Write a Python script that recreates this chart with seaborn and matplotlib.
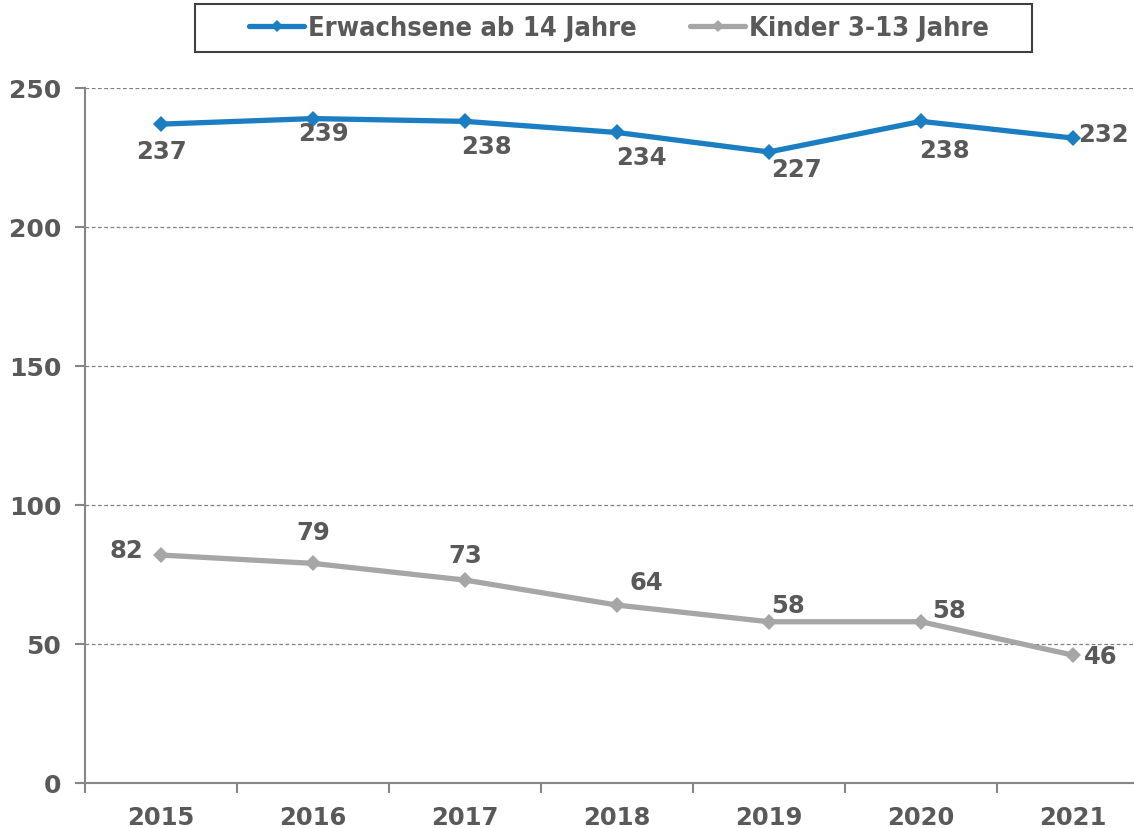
import matplotlib
matplotlib.use("Agg")
import matplotlib.pyplot as plt
import seaborn as sns
import pandas as pd
from matplotlib.patches import Rectangle

years = ["2015", "2016", "2017", "2018", "2019", "2020", "2021"]
erwachsene = [237, 239, 238, 234, 227, 238, 232]
kinder = [82, 79, 73, 64, 58, 58, 46]
series_names = ["Erwachsene ab 14 Jahre", "Kinder 3-13 Jahre"]

# label offsets in pixels (dx, dy)
off_erw = [(0, -27), (10, -14), (21, -25), (24, -25), (27, -17), (23, -29), (30, 4)]
off_kin = [(-35, 5), (0, 31), (0, 25), (29, 23), (19, 17), (28, 12), (28, -1)]

df = pd.DataFrame({
    "Jahr": years * 2,
    "Wert": erwachsene + kinder,
    "Gruppe": [series_names[0]] * len(years) + [series_names[1]] * len(years),
})

sns.set_style("white")
plt.rcParams["font.family"] = ["DejaVu Sans"]
txt = "#595959"
blue = "#1B7DC2"
grey = "#A6A6A6"

fig = plt.figure(figsize=(11.34, 8.29), dpi=100)
ax = fig.add_axes([85 / 1134, 45 / 829, 1064 / 1134, 695 / 829])

sns.lineplot(data=df, x="Jahr", y="Wert", hue="Gruppe", style="Gruppe",
             palette=[blue, grey], markers=["D", "D"], dashes=False,
             linewidth=3.8, markersize=8, markeredgewidth=0, ax=ax, sort=False)

for vals, offs in [(erwachsene, off_erw), (kinder, off_kin)]:
    for i, (v, (dx, dy)) in enumerate(zip(vals, offs)):
        ax.annotate(str(v), (i, v), xytext=(dx, dy), textcoords="offset pixels",
                    ha="center", va="center", fontsize=17.5, fontweight="bold", color=txt)

ax.set_xlim(-0.5, 6.5)
ax.set_ylim(0, 250)
ax.set_yticks(range(0, 251, 50))
ax.set_xticks(range(7))
ax.set_xticklabels(years)
ax.set_xticks([i - 0.5 for i in range(8)], minor=True)
ax.yaxis.grid(True, linestyle=(0, (3, 2)), color="#808080", linewidth=0.9)
ax.set_axisbelow(True)
for s in ["top", "right"]:
    ax.spines[s].set_visible(False)
for s in ["left", "bottom"]:
    ax.spines[s].set_color("#868686")
    ax.spines[s].set_linewidth(1.5)
ax.tick_params(axis="x", which="major", bottom=True, length=0, pad=16, labelsize=17.5, labelcolor=txt)
ax.tick_params(axis="x", which="minor", bottom=True, length=7, width=1.5, color="#868686", direction="out")
ax.tick_params(axis="y", left=True, length=7, width=1.5, color="#868686", direction="out", pad=10,
               labelsize=18, labelcolor=txt)
for lab in ax.get_xticklabels() + ax.get_yticklabels():
    lab.set_fontweight("bold")
ax.set_xlabel("")
ax.set_ylabel("")

handles, labels = ax.get_legend_handles_labels()
for h in handles:
    h.set_markersize(6)
leg = ax.legend(handles, labels, loc="center", bbox_to_anchor=(619 / 1134, 800 / 829),
                bbox_transform=fig.transFigure, ncol=2, frameon=False,
                handlelength=2.0, handletextpad=0.15, columnspacing=2.0,
                prop={"family": ["DejaVu Sans"], "stretch": "condensed", "weight": "bold", "size": 19.5})
for t in leg.get_texts():
    t.set_color(txt)

# legend box
fig.patches.append(Rectangle((195 / 1134, 776 / 829), 837 / 1134, 48 / 829, transform=fig.transFigure,
                             fill=False, edgecolor="#404040", linewidth=1.5))

fig.savefig("out.png", dpi=100)
